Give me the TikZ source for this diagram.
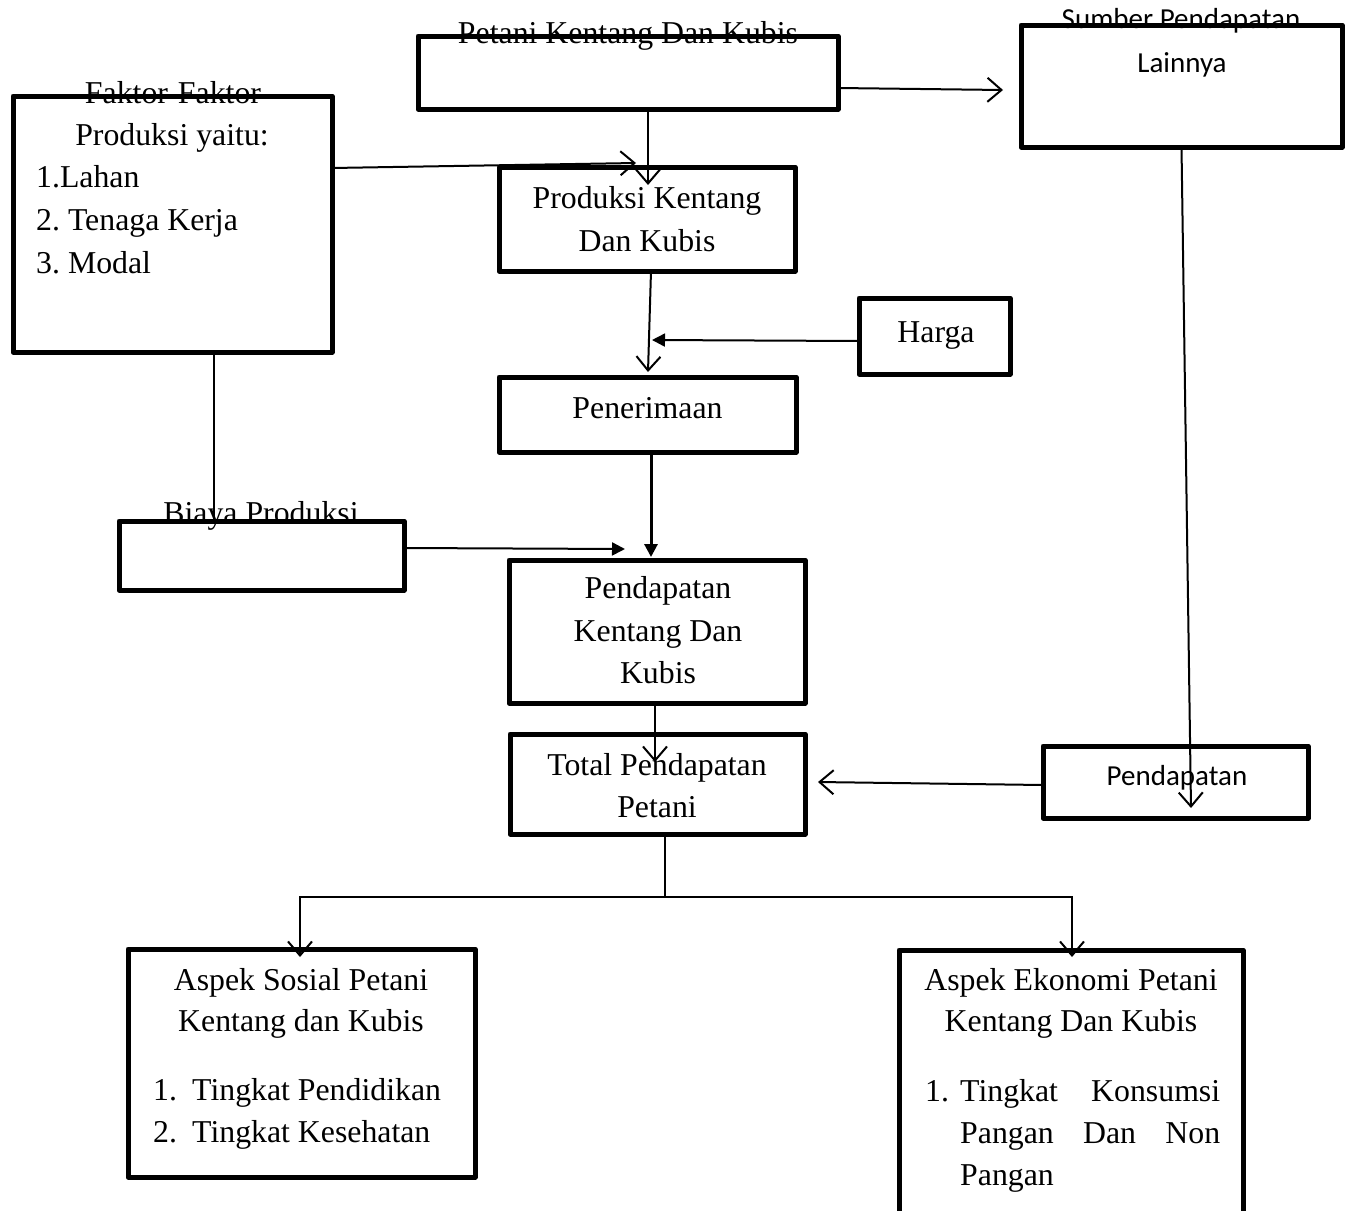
\documentclass[tikz,border=0pt]{standalone}
\usepackage{fontspec}
\setmainfont{Liberation Serif}
\newfontfamily\sansf{Carlito}
\usetikzlibrary{arrows.meta}
\frenchspacing
\tikzset{
  box/.style={draw, line width=5pt, line join=round, inner sep=0pt, outer sep=0pt},
  txt/.style={font=\fontsize{31.8}{42.5}\selectfont, inner sep=0pt},
  stxt/.style={font=\sansf\fontsize{29}{44}\selectfont, inner sep=0pt},
  conn/.style={line width=2pt},
  openarrow/.style={conn, -{Straight Barb[length=14pt,width=24pt,line width=2pt]}},
  fillarrow/.style={conn, -{Triangle[length=13pt,width=13pt]}}
}
\begin{document}
\begin{tikzpicture}[x=1pt,y=-1pt]
\useasboundingbox[fill=white] (0,0) rectangle (1349,1210);

% boxes
\node[box, minimum width=420pt, minimum height=73pt] (petani) at (628,72.5) {};
\node[box, minimum width=321pt, minimum height=122pt] (sumber) at (1181.5,86) {};
\node[box, minimum width=319pt, minimum height=256pt] (faktor) at (172.5,224) {};
\node[box, minimum width=296pt, minimum height=104pt] (produksi) at (647,219) {};
\node[box, minimum width=151pt, minimum height=76pt] (harga) at (934.5,336) {};
\node[box, minimum width=297pt, minimum height=75pt] (penerimaan) at (647.5,414.5) {};
\node[box, minimum width=285pt, minimum height=69pt] (biaya) at (261.5,555.5) {};
\node[box, minimum width=296pt, minimum height=143pt] (pkentang) at (657,631.5) {};
\node[box, minimum width=295pt, minimum height=100pt] (total) at (657.5,784) {};
\node[box, minimum width=265pt, minimum height=72pt] (pendapatan) at (1175.5,782) {};
\node[box, minimum width=347pt, minimum height=228pt] (sosial) at (301.5,1063) {};
\begin{scope}
\clip (0,0) rectangle (1349,1210);
\node[box, minimum width=344pt, minimum height=290pt] (ekonomi) at (1071,1095) {};
\end{scope}

% texts
\node[txt, anchor=base] (tpetani) at (628,43) {Petani Kentang Dan Kubis};
\node[stxt, anchor=base] (tsumber1) at (1181,28) {Sumber Pendapatan};
\node[stxt, anchor=base] (tsumber2) at (1182,72) {Lainnya};
\node[txt, anchor=base] (tfak1) at (173,103) {Faktor-Faktor};
\node[txt, anchor=base] (tfak2) at (172,145) {Produksi yaitu:};
\node[txt, anchor=base west] (tfak3) at (36,187) {1.Lahan};
\node[txt, anchor=base west] (tfak4) at (36,230) {2. Tenaga Kerja};
\node[txt, anchor=base west] (tfak5) at (36,273) {3. Modal};
\node[txt, anchor=base] (tprod1) at (647,208) {Produksi Kentang};
\node[txt, anchor=base] (tprod2) at (647,251) {Dan Kubis};
\node[txt, anchor=base] (tharga) at (936,342) {Harga};
\node[txt, anchor=base] (tpener) at (647.5,418) {Penerimaan};
\node[txt, anchor=base] (tbiaya) at (261,523) {Biaya Produksi};
\node[txt, anchor=base] (tpk1) at (658,598) {Pendapatan};
\node[txt, anchor=base] (tpk2) at (658,641) {Kentang Dan};
\node[txt, anchor=base] (tpk3) at (658,683) {Kubis};
\node[txt, anchor=base] (ttot1) at (657,775) {Total Pendapatan};
\node[txt, anchor=base] (ttot2) at (657,817) {Petani};
\node[stxt, anchor=base] (tpend) at (1177,785) {Pendapatan};
\node[txt, anchor=base] (tsos1) at (301,990) {Aspek Sosial Petani};
\node[txt, anchor=base] (tsos2) at (301,1031) {Kentang dan Kubis};
\node[txt, anchor=base west] (tsos3n) at (153,1100) {1.};
\node[txt, anchor=base west] (tsos3) at (192,1100) {Tingkat Pendidikan};
\node[txt, anchor=base west] (tsos4n) at (153,1142) {2.};
\node[txt, anchor=base west] (tsos4) at (192,1142) {Tingkat Kesehatan};
\node[txt, anchor=base] (teko1) at (1071,990) {Aspek Ekonomi Petani};
\node[txt, anchor=base] (teko2) at (1071,1031) {Kentang Dan Kubis};
\node[txt, anchor=base west] (teko3n) at (925,1101) {1.};
\node[txt, anchor=base west] (teko3) at (960,1101) {\hbox to 260pt{Tingkat\hfill Konsumsi}};
\node[txt, anchor=base west] (teko4) at (960,1143) {\hbox to 260pt{Pangan\hfill Dan\hfill Non}};
\node[txt, anchor=base west] (teko5) at (960,1185) {Pangan};

% connector end points
\coordinate (tipA) at (648,185);
\coordinate (tipB) at (1003,90);
\coordinate (tipC) at (636,163);
\coordinate (tipD) at (648,372);
\coordinate (tipE) at (652,340);
\coordinate (tipF) at (651,557);
\coordinate (tipG) at (625,549);
\coordinate (tipH) at (655,762);
\coordinate (tipI) at (1191,808);
\coordinate (tipJ) at (818,782);
\coordinate (split) at (665,897);
\coordinate (tipK) at (300,957);
\coordinate (tipL) at (1072,957);

% connectors
\draw[openarrow] (petani.south -| tipA) -- (tipA);
\draw[openarrow] ([yshift=-15.5pt]petani.east) -- (tipB);
\draw[openarrow] ([yshift=56pt]faktor.east) -- (tipC);
\draw[openarrow] ([xshift=4pt]produksi.south) -- (tipD);
\draw[fillarrow] ([yshift=-5pt]harga.west) -- (tipE);
\draw[fillarrow, line width=3pt] ([xshift=3.5pt]penerimaan.south) -- (tipF);
\draw[conn] ([xshift=41.5pt]faktor.south) -- ([xshift=-47.5pt]biaya.north);
\draw[fillarrow] ([yshift=7.5pt]biaya.east) -- (tipG);
\draw[openarrow] ([xshift=-2pt]pkentang.south) -- (tipH);
\draw[openarrow] (sumber.south) -- (tipI);
\draw[openarrow] ([yshift=-3pt]pendapatan.west) -- (tipJ);
\draw[conn] (total.south -| split) -- (split);
\draw[openarrow] (split) -| (tipK);
\draw[openarrow] (split) -| (tipL);
\end{tikzpicture}
\end{document}
